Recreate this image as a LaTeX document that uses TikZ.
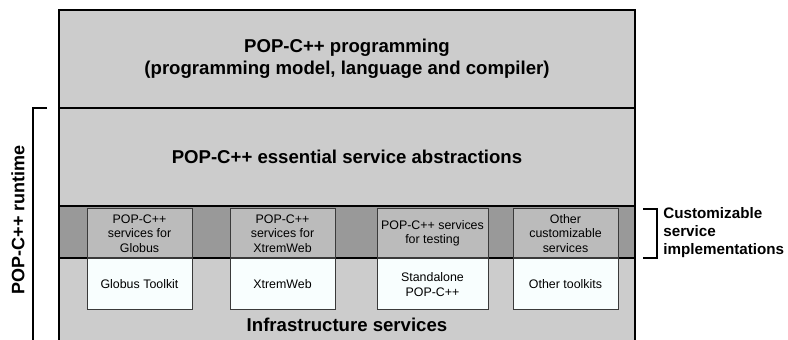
\documentclass[tikz,border=0pt]{standalone}
\usepackage{fontspec}
\setmainfont{Liberation Sans}
\usetikzlibrary{positioning}
\definecolor{layergray}{HTML}{CCCCCC}
\definecolor{bandgray}{HTML}{999999}
\definecolor{svcgray}{HTML}{BBBBBB}
\definecolor{kitwhite}{HTML}{F8FEFE}
\definecolor{edgegray}{HTML}{3A3A3A}

\tikzset{
  layertitle/.style={align=center, font=\fontsize{9.3}{11}\selectfont\bfseries},
  svcbox/.style={draw=edgegray, line width=0.5pt, fill=svcgray, align=center,
    minimum width=52.5pt, minimum height=24.5pt, inner sep=0pt,
    font=\fontsize{6.2}{7.25}\selectfont},
  kitbox/.style={svcbox, fill=kitwhite, minimum height=25.5pt},
  brace/.style={line width=1.1pt}
}

\begin{document}
\begin{tikzpicture}[x=0.5pt, y=-0.5pt]
  \clip (0,0) rectangle (788,340);
  % layered stack: programming > abstractions > customizable > infrastructure
  \fill[layergray] (59,10) rectangle (635,360);
  \draw[line width=0.8pt] (59,108) -- (635,108);
  \draw[line width=1pt, fill=bandgray] (59,206) rectangle (635,258);
  \node[layertitle] (progtitle) at (347,59) {POP-C++ programming\\(programming model, language and compiler)};
  \node[layertitle] (abstitle) at (347,157) {POP-C++ essential service abstractions};
  \node[layertitle] (infratitle) at (347,325) {Infrastructure services};

  % service implementations on top of their toolkits
  \node[svcbox] (svcglobus) at (139.5,233.5) {POP-C++\\services for\\Globus};
  \node[kitbox, below=0pt of svcglobus] (kitglobus) {Globus Toolkit};
  \node[svcbox] (svcxtrem) at (282.5,233.5) {POP-C++\\services for\\XtremWeb};
  \node[kitbox, below=0pt of svcxtrem] (kitxtrem) {XtremWeb};
  \node[svcbox, minimum width=55.5pt] (svctest) at (432.5,233.5) {POP-C++ services\\for testing};
  \node[kitbox, minimum width=55.5pt, below=0pt of svctest] (kitstand) {Standalone\\POP-C++};
  \node[svcbox] (svcother) at (565.5,233.5) {Other\\customizable\\services};
  \node[kitbox, below=0pt of svcother] (kitother) {Other toolkits};

  \draw[line width=1pt] (59,10) rectangle (635,360);

  % brackets and side labels
  \draw[brace] (47,108) -- (33,108) -- (33,350);
  \node[rotate=90, font=\fontsize{9}{11}\selectfont\bfseries] (runtimelbl) at (18,220) {POP-C++ runtime};
  \draw[brace] (643,209) -- (657,209) -- (657,258) -- (643,258);
  \node[anchor=west, inner sep=0pt, align=left, font=\fontsize{7.6}{9}\selectfont\bfseries] (customlbl) at (663,233) {Customizable\\service\\implementations};
\end{tikzpicture}
\end{document}
